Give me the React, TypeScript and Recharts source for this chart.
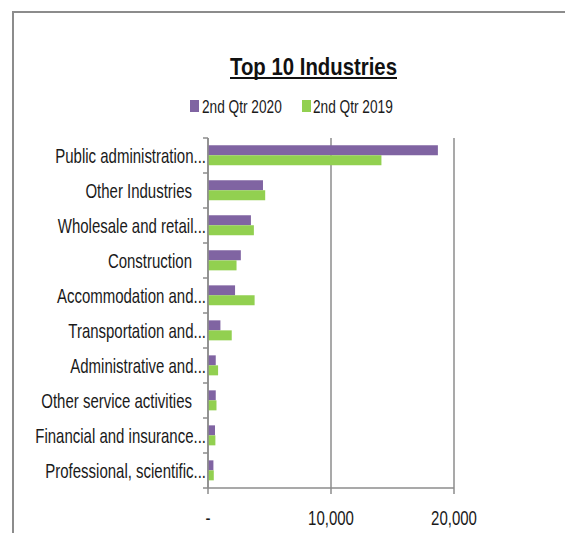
import React from 'react';
import { BarChart, Bar, XAxis, YAxis, CartesianGrid } from 'recharts';

const categories = [
  'Public administration...',
  'Other Industries',
  'Wholesale and retail...',
  'Construction',
  'Accommodation and...',
  'Transportation and...',
  'Administrative and...',
  'Other service activities',
  'Financial and insurance...',
  'Professional, scientific...',
];
const qtr2020 = [18690, 4470, 3490, 2670, 2200, 1010, 630, 630, 570, 440];
const qtr2019 = [14100, 4650, 3730, 2320, 3790, 1930, 820, 690, 600, 470];
const xTicks = [0, 10000, 20000];
const seriesNames = ['2nd Qtr 2020', '2nd Qtr 2019'];

// no narrow font installed, so squeeze Liberation Sans sideways
const FONT = "'Liberation Sans', Arial, sans-serif";
const SQ = 0.75;
const PURPLE = '#8064A2';
const GREEN = '#92D050';
const AXIS = '#8c8c8c';
const INK = '#1a1a1a';

const W = 559;
const H = 520;
const M = { top: 125, right: 119, bottom: 10, left: 0 };
const Y_W = 194;
const X_H = 35;
const PLOT_BOTTOM = H - M.bottom - X_H;
const BAND = (PLOT_BOTTOM - M.top) / categories.length;

const data = categories.map((name, i) => ({ name, q2020: qtr2020[i], q2019: qtr2019[i] }));

const CatTick = (props: any) => {
  const { y, payload, index } = props;
  const label: string = payload.value;
  const cut = label.endsWith('...');
  const ax = cut ? Y_W - 2 : Y_W - 16;
  return (
    <g>
      <line x1={Y_W - 5} x2={Y_W} y1={y - BAND / 2} y2={y - BAND / 2} stroke={AXIS} strokeWidth={1.5} />
      {index === categories.length - 1 && (
        <line x1={Y_W - 5} x2={Y_W} y1={y + BAND / 2} y2={y + BAND / 2} stroke={AXIS} strokeWidth={1.5} />
      )}
      <text transform={`translate(${ax},${y + 7}) scale(${SQ},1)`} textAnchor="end" fontSize={20} fill={INK} fontFamily={FONT}>
        {label}
      </text>
    </g>
  );
};

const ValTick = (props: any) => {
  const { x, payload } = props;
  const v: number = payload.value;
  return (
    <text transform={`translate(${x},${PLOT_BOTTOM + 37}) scale(${SQ},1)`} textAnchor="middle" fontSize={20} fill={INK} fontFamily={FONT}>
      {v === 0 ? '-' : v.toLocaleString('en-US')}
    </text>
  );
};

export default function App() {
  return (
    <div
      style={{
        position: 'relative',
        marginLeft: 4,
        marginTop: 3,
        width: W,
        height: H,
        borderLeft: `2px solid ${AXIS}`,
        borderTop: `2px solid ${AXIS}`,
      }}
    >
      <svg width={W} height={120} style={{ position: 'absolute', left: 0, top: 0 }}>
        <text x={299.5} y={62} textAnchor="middle" fontSize={24} fontWeight="bold" fill="#111" fontFamily={FONT}
          textLength={167} lengthAdjust="spacingAndGlyphs">
          Top 10 Industries
        </text>
        <line x1={216} x2={383} y1={65} y2={65} stroke="#111" strokeWidth={2} />
        <rect x={176} y={87} width={9} height={12} fill={PURPLE} />
        <text transform={`translate(188,100) scale(0.76,1)`} fontSize={18} fill={INK} fontFamily={FONT}>{seriesNames[0]}</text>
        <rect x={288} y={87} width={9} height={12} fill={GREEN} />
        <text transform={`translate(299,100) scale(0.76,1)`} fontSize={18} fill={INK} fontFamily={FONT}>{seriesNames[1]}</text>
      </svg>
      <BarChart
        width={W}
        height={H}
        data={data}
        layout="vertical"
        margin={M}
        barCategoryGap="21%"
        barGap={0}
      >
        <CartesianGrid horizontal={false} vertical={true} stroke={AXIS} strokeWidth={1.5} />
        <XAxis
          type="number"
          domain={[0, 20000]}
          ticks={xTicks}
          height={X_H}
          stroke={AXIS}
          strokeWidth={1.5}
          tickSize={6}
          tick={<ValTick />}
          interval={0}
        />
        <YAxis
          type="category"
          dataKey="name"
          width={Y_W}
          stroke={AXIS}
          strokeWidth={1.5}
          tickLine={false}
          tick={<CatTick />}
          interval={0}
        />
        <Bar dataKey="q2020" name={seriesNames[0]} fill={PURPLE} isAnimationActive={false} />
        <Bar dataKey="q2019" name={seriesNames[1]} fill={GREEN} isAnimationActive={false} />
      </BarChart>
    </div>
  );
}
